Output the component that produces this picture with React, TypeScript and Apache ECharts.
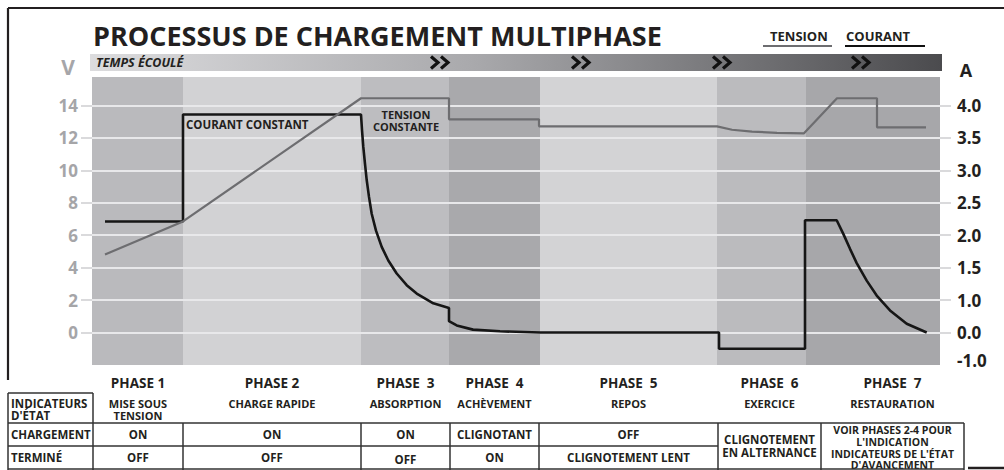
import React, { useEffect, useRef } from 'react';
import * as echarts from 'echarts';

// ---------------- DATA ----------------
const TITLE = 'PROCESSUS DE CHARGEMENT MULTIPHASE';
const legendNames = ['TENSION', 'COURANT'];
const timeLabel = 'TEMPS ÉCOULÉ';
const axisUnits = ['V', 'A'];

// phase boundaries along the elapsed-time axis (arbitrary time units)
const phaseBounds = [0, 91, 269, 357, 448, 625, 714, 848];
const bandColors = ['#bababd', '#d2d2d4', '#bdbdc0', '#a9a9ac', '#d3d3d5', '#bbbbbe', '#a7a7aa'];

// voltage axis (V)
const voltageTicks = [0, 2, 4, 6, 8, 10, 12, 14];
// current axis (A) – non-linear scale, labels placed at voltage-scale positions
const currentTickValues = [-1, 0, 1, 1.5, 2, 2.5, 3, 3.5, 4];
const currentTickLabels = ['-1.0', '0.0', '1.0', '1.5', '2.0', '2.5', '3.0', '3.5', '4.0'];
const currentTickPositions = [-1.75, 0, 2, 4, 6, 8, 10, 12, 14];

// TENSION series
const voltageTime = [13, 91, 269, 357, 357, 447, 447, 625, 640, 660, 685, 712, 745, 785, 785, 834];
const voltageValue = [4.81, 6.85, 14.44, 14.44, 13.14, 13.14, 12.71, 12.71, 12.5, 12.38, 12.31, 12.28, 14.44, 14.44, 12.65, 12.65];

// COURANT series (A)
const currentTime = [
  13, 91, 91, 269, 270, 271.3, 273, 274.7, 277, 279.7, 284, 289.7, 296.3, 304.7, 314.7, 324.7, 341.3, 357,
  357, 364.7, 381, 408, 448, 627, 627, 713, 713, 744.7, 751.3, 758, 764.7, 774.7, 784.7, 798, 814.7, 834.7,
];
const currentValue = [
  2.21, 2.21, 3.86, 3.86, 3.62, 3.36, 3.1, 2.85, 2.59, 2.33, 2.07, 1.82, 1.61, 1.41, 1.23, 1.1, 0.9, 0.76,
  0.35, 0.22, 0.09, 0.04, 0, 0, -0.57, -0.57, 2.23, 2.23, 2.02, 1.79, 1.57, 1.3, 1.07, 0.68, 0.27, 0,
];

const annotations = ['COURANT CONSTANT', 'TENSION\nCONSTANTE'];

// table
const phaseNames = ['PHASE 1', 'PHASE 2', 'PHASE  3', 'PHASE  4', 'PHASE  5', 'PHASE  6', 'PHASE  7'];
const phaseDescriptions = ['MISE SOUS\nTENSION', 'CHARGE RAPIDE', 'ABSORPTION', 'ACHÈVEMENT', 'REPOS', 'EXERCICE', 'RESTAURATION'];
const indicatorHeader = "INDICATEURS\nD'ÉTAT";
const rowNames = ['CHARGEMENT', 'TERMINÉ'];
const chargementRow = ['ON', 'ON', 'ON', 'CLIGNOTANT', 'OFF'];
const termineRow = ['OFF', 'OFF', 'OFF', 'ON', 'CLIGNOTEMENT LENT'];
const exerciceCell = 'CLIGNOTEMENT\nEN ALTERNANCE';
const restaurationCell = "VOIR PHASES 2-4 POUR\nL'INDICATION\nINDICATEURS DE L'ÉTAT\nD'AVANCEMENT";

// ---------------- LAYOUT ----------------
const GRID = { left: 92, top: 77, width: 848, height: 288 };
const Y_MIN = -2;
const Y_MAX = 15.75;
const tableCols = [8, 93, 183, 361, 450, 539, 718, 821, 964];
const FONT = '"Open Sans", "Noto Sans", sans-serif';
const INK = '#231f20';

function ampToPos(a: number): number {
  const v = currentTickValues;
  const p = currentTickPositions;
  if (a <= v[0]) return p[0] + (a - v[0]) * (p[1] - p[0]) / (v[1] - v[0]);
  for (let i = 0; i < v.length - 1; i++) {
    if (a >= v[i] && a <= v[i + 1]) return p[i] + (a - v[i]) * (p[i + 1] - p[i]) / (v[i + 1] - v[i]);
  }
  const n = v.length - 1;
  return p[n] + (a - v[n]) * (p[n] - p[n - 1]) / (v[n] - v[n - 1]);
}

function txt(x: number, y: number, text: string, o: any = {}) {
  return {
    type: 'text',
    x,
    y,
    z: 20,
    silent: true,
    style: {
      text,
      fill: o.fill || INK,
      font: `${o.style || 'normal'} bold ${o.size || 11}px ${FONT}`,
      align: o.align || 'center',
      verticalAlign: o.va || 'middle',
      lineHeight: o.lh || undefined,
    },
  };
}
function ln(x1: number, y1: number, x2: number, y2: number, stroke = '#333', w = 1.5) {
  return { type: 'line', z: 20, silent: true, shape: { x1, y1, x2, y2 }, style: { stroke, lineWidth: w } };
}

export default function App() {
  const ref = useRef<HTMLDivElement>(null);

  useEffect(() => {
    if (!ref.current) return;
    const chart = echarts.init(ref.current, undefined, { renderer: 'svg' });

    const bandData = bandColors.map((c, i) => [phaseBounds[i], phaseBounds[i + 1], i]);
    const voltageData = voltageTime.map((t, i) => [t, voltageValue[i]]);
    const currentData = currentTime.map((t, i) => [t, ampToPos(currentValue[i])]);

    const graphic: any[] = [];
    // frame
    graphic.push(ln(8, 8, 1004, 8, INK, 2.2));
    graphic.push(ln(8, 8, 8, 380, INK, 2.2));
    // elapsed time bar
    graphic.push({
      type: 'rect',
      silent: true,
      z: 10,
      shape: { x: 90, y: 54, width: 852, height: 17 },
      style: {
        fill: new echarts.graphic.LinearGradient(0, 0, 1, 0, [
          { offset: 0, color: '#dcdcde' },
          { offset: 0.45, color: '#a9a9ac' },
          { offset: 1, color: '#4b4b4e' },
        ]),
      },
    });
    graphic.push(txt(96, 62.5, timeLabel, { align: 'left', size: 12.5, style: 'italic' }));
    [431, 572, 713, 852].forEach((x) => {
      [0, 10].forEach((dx) => {
        graphic.push({
          type: 'polyline',
          silent: true,
          z: 20,
          shape: { points: [[x + dx, 56.5], [x + dx + 7, 62.5], [x + dx, 68.5]] },
          style: { stroke: '#111', lineWidth: 3.2, fill: 'none' },
        });
      });
    });
    // units
    graphic.push(txt(68, 67, axisUnits[0], { size: 21, fill: '#a6a6a9' }));
    graphic.push(txt(966, 70, axisUnits[1], { size: 18 }));
    // legend
    graphic.push(txt(770, 36, legendNames[0], { align: 'left', size: 13 }));
    graphic.push(ln(763, 46, 832, 46, '#6d6d70', 2.2));
    graphic.push(txt(846, 36, legendNames[1], { align: 'left', size: 13 }));
    graphic.push(ln(845, 46, 925, 46, '#111', 2.2));
    // annotations
    graphic.push(txt(186, 124, annotations[0], { align: 'left', size: 11.5 }));
    graphic.push(txt(406, 120, annotations[1], { size: 11, lh: 12 }));

    // table
    for (let i = 0; i < 7; i++) {
      const cx = (tableCols[i + 1] + tableCols[i + 2]) / 2;
      graphic.push(txt(cx, 383, phaseNames[i], { size: 13.5 }));
      graphic.push(txt(cx, 397, phaseDescriptions[i], { size: 11, va: 'top', lh: 12.5 }));
    }
    graphic.push(txt(11, 397, indicatorHeader, { align: 'left', va: 'top', size: 11.5, lh: 12 }));
    graphic.push(txt(11, 434.5, rowNames[0], { align: 'left', size: 11.5 }));
    graphic.push(txt(11, 457.5, rowNames[1], { align: 'left', size: 11.5 }));
    for (let i = 0; i < 5; i++) {
      const cx = (tableCols[i + 1] + tableCols[i + 2]) / 2;
      graphic.push(txt(cx, 434.5, chargementRow[i], { size: 11.5 }));
      graphic.push(txt(cx, i === 2 ? 459.5 : 457.5, termineRow[i], { size: 11.5 }));
    }
    graphic.push(txt((tableCols[6] + tableCols[7]) / 2, 446, exerciceCell, { size: 11.5, lh: 13.5 }));
    graphic.push(txt((tableCols[7] + tableCols[8]) / 2, 424, restaurationCell, { size: 10.5, va: 'top', lh: 11.8 }));
    // table lines
    graphic.push(ln(8, 393, 93, 393));
    graphic.push(ln(8, 423, 964, 423));
    graphic.push(ln(8, 446, 718, 446));
    graphic.push(ln(8, 469, 964, 469));
    graphic.push(ln(8, 393, 8, 470));
    graphic.push(ln(93, 393, 93, 470));
    tableCols.slice(2).forEach((x) => graphic.push(ln(x, 423, x, 470)));
    graphic.push(ln(968, 468, 1004, 468, INK, 2.5));

    chart.setOption({
      animation: false,
      title: {
        text: TITLE,
        left: 88,
        top: 17,
        textStyle: { fontFamily: FONT, fontWeight: 'bold', fontSize: 27, color: INK },
      },
      grid: { left: GRID.left, top: GRID.top, width: GRID.width, height: GRID.height, containLabel: false },
      xAxis: {
        type: 'value',
        min: phaseBounds[0],
        max: phaseBounds[phaseBounds.length - 1],
        show: false,
      },
      yAxis: [
        {
          type: 'value',
          min: Y_MIN,
          max: Y_MAX,
          interval: 2,
          z: 3,
          position: 'left',
          axisLine: { show: false },
          axisTick: {
            show: true,
            length: 11,
            customValues: voltageTicks,
            lineStyle: { color: '#dadadc', width: 2 },
          },
          axisLabel: {
            customValues: voltageTicks,
            color: '#a5a5a8',
            fontFamily: FONT,
            fontWeight: 'bold',
            fontSize: 17,
            margin: 14,
            padding: [0, 0, 12, 0],
            formatter: (v: number) => String(v),
          },
          splitLine: { show: true, lineStyle: { color: '#e8e8ea', width: 2 } },
        },
        {
          type: 'value',
          min: Y_MIN,
          max: Y_MAX,
          interval: 2,
          z: 3,
          position: 'right',
          axisLine: { show: false },
          axisTick: {
            show: true,
            length: 11,
            customValues: voltageTicks,
            lineStyle: { color: '#dadadc', width: 2 },
          },
          axisLabel: {
            customValues: currentTickPositions,
            color: INK,
            fontFamily: FONT,
            fontWeight: 'bold',
            fontSize: 17,
            margin: 17,
            padding: [0, 0, 8, 0],
            formatter: (v: number) => {
              const i = currentTickPositions.findIndex((p) => Math.abs(p - v) < 1e-6);
              return i >= 0 ? currentTickLabels[i] : '';
            },
          },
          splitLine: { show: false },
        },
      ],
      series: [
        {
          type: 'custom',
          name: 'phases',
          z: 1,
          silent: true,
          data: bandData,
          renderItem: (params: any, api: any) => {
            const p0 = api.coord([api.value(0), Y_MAX]);
            const p1 = api.coord([api.value(1), Y_MIN]);
            return {
              type: 'rect',
              shape: { x: p0[0], y: p0[1], width: p1[0] - p0[0], height: p1[1] - p0[1] },
              style: { fill: bandColors[api.value(2)] },
            };
          },
        },
        {
          type: 'line',
          name: legendNames[0],
          z: 6,
          yAxisIndex: 0,
          data: voltageData,
          symbol: 'none',
          lineStyle: { color: '#6d6d70', width: 2.2 },
        },
        {
          type: 'line',
          name: legendNames[1],
          z: 5,
          yAxisIndex: 1,
          data: currentData,
          symbol: 'none',
          lineStyle: { color: '#161616', width: 2.6 },
        },
      ],
      graphic,
    });

    return () => chart.dispose();
  }, []);

  return <div ref={ref} style={{ position: 'absolute', left: 0, top: 0, width: 1004, height: 470 }} />;
}
